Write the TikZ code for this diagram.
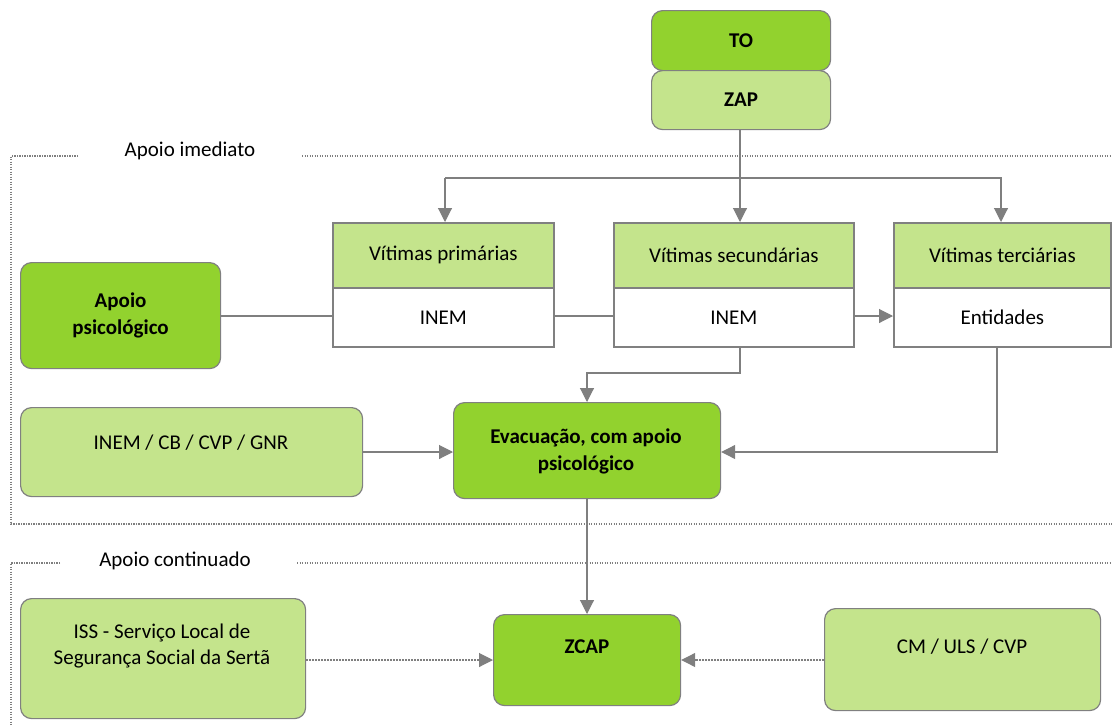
\documentclass[tikz,border=0pt]{standalone}
\usepackage{fontspec}
\setmainfont{Carlito}
\usetikzlibrary{arrows.meta,positioning}
\definecolor{dkgreen}{HTML}{92D22E}
\definecolor{ltgreen}{HTML}{C4E48C}
\definecolor{bordergray}{HTML}{808080}
\definecolor{linegray}{HTML}{7F7F7F}
\tikzset{
  box/.style={draw=bordergray, line width=1.2pt, rounded corners=11pt, inner sep=0pt},
  dkbox/.style={box, fill=dkgreen},
  ltbox/.style={box, fill=ltgreen},
  hdr/.style={draw=bordergray, line width=1.8pt, fill=ltgreen, inner sep=0pt},
  bdy/.style={draw=bordergray, line width=1.8pt, fill=white, inner sep=0pt},
  txt/.style={font=\fontsize{21}{26}\selectfont, align=center, inner sep=0pt},
  btxt/.style={txt, font=\fontsize{21}{27}\selectfont\bfseries},
  conn/.style={draw=linegray, line width=1.1pt},
  arr/.style={conn, -{Triangle[length=14pt,width=14pt]}},
  darr/.style={arr, dash pattern=on 2pt off 1pt},
  frame/.style={draw=linegray, line width=1.3pt, dash pattern=on 1.3pt off 1.2pt},
  ftxt/.style={font=\fontsize{21}{24}\selectfont, inner sep=0pt}
}
\begin{document}
\begin{tikzpicture}[x=1pt,y=-1pt]
\useasboundingbox (0,0) rectangle (1112,726);
% frames
\draw[frame] (78,156) -- (11,156) -- (11,524) -- (1112,524);
\draw[frame] (302,156) -- (1112,156);
\node[ftxt] (lbl1) at (190,151) {Apoio imediato};
\draw[frame] (60,563) -- (11,563) -- (11,726);
\draw[frame] (297,563) -- (1112,563);
\node[ftxt] (lbl2) at (175,561) {Apoio continuado};
% top
\node[dkbox, minimum width=179pt, minimum height=60pt, anchor=north west] (to) at (651,10) {};
\node[btxt] at (to.center) {TO};
\node[ltbox, minimum width=179pt, minimum height=59pt, anchor=north west] (zap) at (651,70) {};
\node[btxt] at (zap.center) {ZAP};
% victims
\node[hdr, minimum width=221pt, minimum height=65pt, anchor=north west] (h1) at (332,222) {};
\node[bdy, minimum width=221pt, minimum height=59pt, anchor=north west] (b1) at (332,287) {};
\node[hdr, minimum width=240pt, minimum height=65pt, anchor=north west] (h2) at (613,222) {};
\node[bdy, minimum width=240pt, minimum height=59pt, anchor=north west] (b2) at (613,287) {};
\node[hdr, minimum width=217pt, minimum height=65pt, anchor=north west] (h3) at (893,222) {};
\node[bdy, minimum width=217pt, minimum height=59pt, anchor=north west] (b3) at (893,287) {};
\node[txt] (t1) at (h1.center) {Vítimas primárias};
\node[txt] (t2) at (h2.center) {Vítimas secundárias};
\node[txt] (t3) at (h3.center) {Vítimas terciárias};
\node[txt] (t4) at (b1.center) {INEM};
\node[txt] (t5) at (b2.center) {INEM};
\node[txt] (t6) at (b3.center) {Entidades};
% apoio psicologico
\node[dkbox, minimum width=200pt, minimum height=106pt, anchor=north west] (ap) at (20,262) {};
\node[btxt] (apt) at (ap.center) {Apoio\\psicológico};
% evacuation row
\node[ltbox, minimum width=342pt, minimum height=89pt, anchor=north west] (inem) at (20,407) {};
\node[txt] (inemt) at (191,443) {INEM / CB / CVP / GNR};
\node[dkbox, minimum width=267pt, minimum height=96pt, anchor=north west] (ev) at (453,402) {};
\node[btxt] (evt) at (586,451) {Evacuação, com apoio\\psicológico};
% bottom row
\node[ltbox, minimum width=285pt, minimum height=120pt, anchor=north west] (iss) at (20,598) {};
\node[txt] (isst) at (162,646) {ISS - Serviço Local de\\Segurança Social da Sertã};
\node[dkbox, minimum width=187pt, minimum height=91pt, anchor=north west] (zcap) at (493,614) {};
\node[btxt] (zcapt) at (587,647) {ZCAP};
\node[ltbox, minimum width=276pt, minimum height=102pt, anchor=north west] (cm) at (824,608) {};
\node[txt] (cmt) at (962,647) {CM / ULS / CVP};
% connectors
\coordinate (split) at (740,178);
\draw[conn] (zap.south -| split) -- (split);
\draw[arr] (445,178) -- (h1.north -| 445,0);
\draw[arr] (split) -- (h2.north -| split);
\draw[arr] (445,178) -- (1001,178) -- (h3.north -| 1001,0);
\draw[conn] (ap.east |- 0,316) -- (b1.west |- 0,316);
\draw[conn] (b1.east |- 0,316) -- (b2.west |- 0,316);
\draw[arr] (b2.east |- 0,316) -- (b3.west |- 0,316);
\draw[arr] (b2.south -| 740,0) -- (740,373) -- (587,373) -- (ev.north -| 587,0);
\draw[arr] (b3.south -| 997,0) -- (997,452) -- (ev.east |- 0,452);
\draw[arr] (inem.east |- 0,452) -- (ev.west |- 0,452);
\draw[arr] (ev.south -| 587,0) -- (zcap.north -| 587,0);
\draw[darr] (iss.east |- 0,660) -- (zcap.west |- 0,660);
\draw[darr] (cm.west |- 0,660) -- (zcap.east |- 0,660);
\end{tikzpicture}
\end{document}
